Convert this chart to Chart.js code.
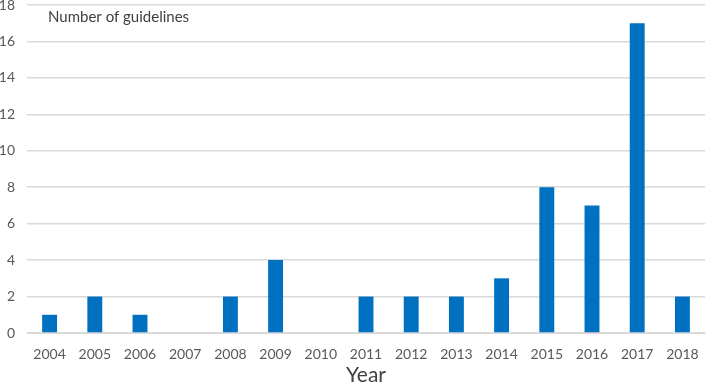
<!DOCTYPE html>
<html lang="en">
<head>
    <meta charset="UTF-8">
    <title>Number of guidelines</title>
    <script src="https://cdn.jsdelivr.net/npm/chart.js"></script>
    <style>
        html, body { margin: 0; padding: 0; background: #fff; }
    </style>
</head>
<body>
<canvas id="grafico" width="709" height="384"></canvas>
<script>
    // dados
    var anos = ["2004", "2005", "2006", "2007", "2008", "2009", "2010", "2011", "2012", "2013", "2014", "2015", "2016", "2017", "2018"];
    var diretrizes = [1, 2, 1, 0, 2, 4, 0, 2, 2, 2, 3, 8, 7, 17, 2];
    var yTicks = [0, 2, 4, 6, 8, 10, 12, 14, 16, 18];

    var rotulo = {
        id: "rotulo",
        afterDraw: function (chart) {
            var ctx = chart.ctx;
            ctx.save();
            ctx.font = "15px Lato";
            ctx.fillStyle = "#404040";
            ctx.textBaseline = "middle";
            ctx.fillText("Number of guidelines", chart.chartArea.left + 21, chart.chartArea.top + 12);
            ctx.restore();
        }
    };

    var ctx = document.getElementById("grafico").getContext("2d");
    new Chart(ctx, {
        type: "bar",
        data: {
            labels: anos,
            datasets: [{
                data: diretrizes,
                backgroundColor: "#0070C0",
                barPercentage: 0.66,
                categoryPercentage: 0.5
            }]
        },
        options: {
            responsive: false,
            animation: false,
            devicePixelRatio: 1,
            layout: { padding: { top: 5, right: 4, left: 0, bottom: 0 } },
            plugins: { legend: { display: false }, tooltip: { enabled: false } },
            scales: {
                x: {
                    afterFit: function (s) { s.height = 51; s.paddingLeft = 0; s.paddingRight = 0; },
                    grid: { display: false },
                    border: { color: "#d9d9d9" },
                    ticks: { color: "#595959", font: { family: "Lato", size: 14 }, padding: 5 },
                    title: { display: true, text: "Year", color: "#404040", font: { family: "Lato", size: 21 }, padding: { top: 0, bottom: -4 } }
                },
                y: {
                    min: 0, max: 18,
                    afterBuildTicks: function (s) { s.ticks = yTicks.map(function (v) { return { value: v }; }); },
                    afterFit: function (s) { s.width = 27; s.paddingTop = 0; s.paddingBottom = 0; },
                    grid: { color: "#d9d9d9", lineWidth: 1.5, drawTicks: false },
                    border: { display: false },
                    ticks: { color: "#595959", font: { family: "Lato", size: 14 }, padding: 12 }
                }
            }
        },
        plugins: [rotulo]
    });
</script>
</body>
</html>
